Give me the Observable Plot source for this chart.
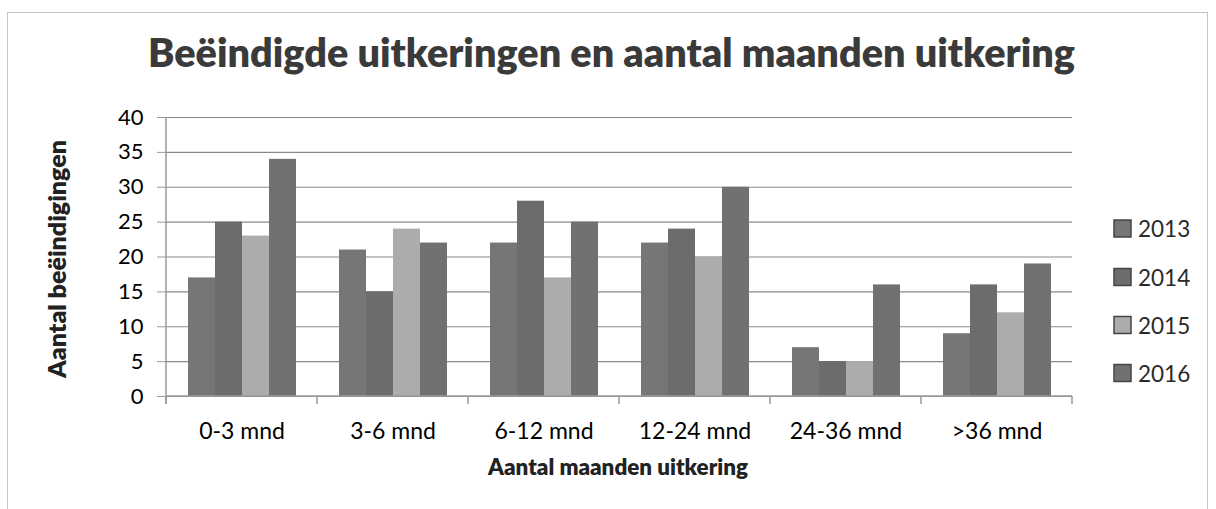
<!DOCTYPE html>
<html><head><meta charset="utf-8">
<script src="https://cdn.jsdelivr.net/npm/d3@7"></script>
<script src="https://cdn.jsdelivr.net/npm/@observablehq/plot@0.6"></script>
<style>
body{margin:0;background:#fff;}
#wrap{position:relative;width:1216px;height:509px;overflow:hidden;background:#fff;}
#border{position:absolute;left:7px;top:12px;width:1201px;height:510px;border:1px solid #c4c4c4;box-sizing:border-box;}
#chart{position:absolute;left:0;top:0;}
#overlay{position:absolute;left:0;top:0;pointer-events:none;}
</style>
</head><body>
<div id="wrap"><div id="border"></div><div id="chart"></div><svg id="overlay" width="1216" height="509"></svg></div>
<script>
const categories = ["0-3 mnd","3-6 mnd","6-12 mnd","12-24 mnd","24-36 mnd",">36 mnd"];
const years = ["2013","2014","2015","2016"];
const v2013 = [17,21,22,22,7,9];
const v2014 = [25,15,28,24,5,16];
const v2015 = [23,24,17,20,5,12];
const v2016 = [34,22,25,30,16,19];
const yTicks = [0,5,10,15,20,25,30,35,40];
const yearColors = ["#767676","#6c6c6c","#acacac","#717171"];
const titleText = "Beëindigde uitkeringen en aantal maanden uitkering";
const yTitle = "Aantal beëindigingen";
const xTitle = "Aantal maanden uitkering";

const series = [v2013, v2014, v2015, v2016];
const data = categories.flatMap((c, i) => years.map((y, j) => ({category: c, year: y, value: series[j][i]})));

const FONT = "Lato, 'Open Sans', sans-serif";
const chart = Plot.plot({
  width: 1216, height: 509,
  marginTop: 117, marginBottom: 113, marginLeft: 163, marginRight: 142,
  style: {fontFamily: FONT, background: "transparent", overflow: "visible"},
  fx: {domain: categories, padding: 0, label: null},
  x: {domain: years, paddingInner: 0, paddingOuter: 0.76, axis: null},
  y: {domain: [0, 40], label: null, axis: null},
  color: {domain: years, range: yearColors},
  marks: [
    Plot.gridY(yTicks, {stroke: "#8a8a8a", strokeOpacity: 1, strokeWidth: 1.2}),
    Plot.barY(data, {fx: "category", x: "year", y: "value", fill: "year"}),
    Plot.axisY(yTicks, {tickSize: 9, tickPadding: 14, fontSize: 22, fill: "#000", stroke: "#9a9a9a", label: null}),
    Plot.axisFx({anchor: "bottom", tickSize: 0, tickPadding: 26, fontSize: 23, fill: "#000", label: null})
  ]
});
document.getElementById("chart").appendChild(chart);

// axis line and category boundary ticks from the library's scales
const fx = chart.scale("fx"), ys = chart.scale("y");
const svg = d3.select(chart);
const y0 = ys.apply(0), yTop = ys.apply(40);
const bounds = categories.map(c => fx.apply(c)).concat([fx.apply(categories[categories.length - 1]) + fx.bandwidth]);
const g = svg.append("g").attr("stroke", "#9a9a9a").attr("stroke-width", 1.5);
g.append("line").attr("x1", bounds[0]).attr("x2", bounds[0]).attr("y1", yTop).attr("y2", y0 + 8);
bounds.forEach(b => g.append("line").attr("x1", b).attr("x2", b).attr("y1", y0).attr("y2", y0 + 8));
g.append("line").attr("x1", bounds[0]).attr("x2", bounds[bounds.length-1]).attr("y1", y0).attr("y2", y0);

// overlay texts
const ov = d3.select("#overlay").style("font-family", FONT);
function fit(sel, target) {
  const len = sel.node().getComputedTextLength();
  const fs = parseFloat(sel.attr("font-size"));
  sel.attr("font-size", fs * target / len);
}
const t = ov.append("text").attr("x", 611.5).attr("y", 67).attr("text-anchor", "middle")
  .attr("font-weight", 800).attr("font-size", 32).attr("fill", "#3a3a3a").text(titleText);
fit(t, 927);
const xt = ov.append("text").attr("x", 618).attr("y", 475).attr("text-anchor", "middle")
  .attr("font-weight", 800).attr("font-size", 19).attr("fill", "#222").text(xTitle);
fit(xt, 260);
const yt = ov.append("text").attr("transform", "translate(66,259) rotate(-90)").attr("text-anchor", "middle")
  .attr("font-weight", 800).attr("font-size", 19).attr("fill", "#222").text(yTitle);
fit(yt, 238);

const rows = [228.5, 277, 325, 373];
years.forEach((yr, i) => {
  ov.append("rect").attr("x", 1114).attr("y", rows[i] - 8.5).attr("width", 17).attr("height", 17)
    .attr("fill", yearColors[i]).attr("stroke", "#444").attr("stroke-width", 1.5);
  ov.append("text").attr("x", 1138).attr("y", rows[i] + 8.5).attr("font-size", 22.5).attr("fill", "#2a2a2a").text(yr);
});
</script>
</body></html>
